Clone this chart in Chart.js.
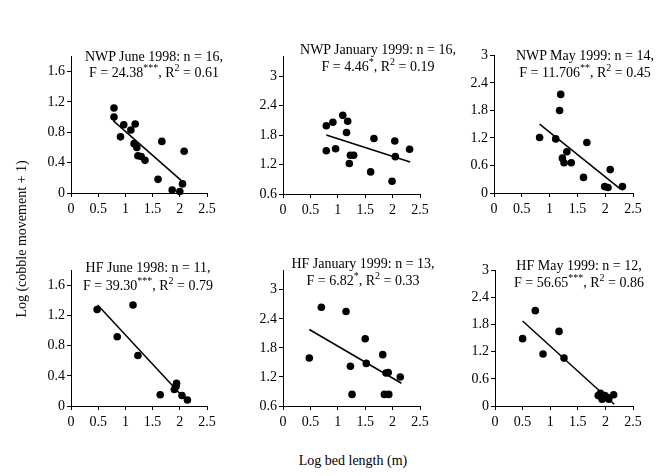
<!DOCTYPE html>
<html>
<head>
<meta charset="utf-8">
<script src="https://cdn.jsdelivr.net/npm/chart.js@4/dist/chart.umd.min.js"></script>
<style>
  body { margin: 0; background: #fff; }
  #wrap { position: relative; width: 665px; height: 476px; overflow: hidden; font-family: "Liberation Serif", "Times New Roman", serif; color: #000; }
  canvas { position: absolute; }
  .note { position: absolute; width: 220px; height: 16px; line-height: 16px; text-align: center; font-size: 14px; white-space: nowrap; }
  .note sup { font-size: 10px; line-height: 0; vertical-align: 6px; }
  .note sup.r { font-size: 10px; }
  .axt { position: absolute; font-size: 14px; white-space: nowrap; text-align: center; }
</style>
</head>
<body>
<div id="wrap"></div>
<script>
// tick labels
const xTicks = [0, 0.5, 1, 1.5, 2, 2.5];
const yTicksA = [0, 0.4, 0.8, 1.2, 1.6];
const yTicksB = [0.6, 1.2, 1.8, 2.4, 3];
const yTicksC = [0, 0.6, 1.2, 1.8, 2.4, 3];

// NWP June 1998
const nwpJun98X = [0.79, 0.79, 0.97, 0.91, 1.10, 1.18, 1.16, 1.21, 1.23, 1.29, 1.36, 1.67, 1.60, 1.86, 2.00, 2.05, 2.08];
const nwpJun98Y = [1.12, 1.00, 0.90, 0.74, 0.83, 0.91, 0.65, 0.60, 0.49, 0.48, 0.43, 0.68, 0.18, 0.04, 0.02, 0.12, 0.55];
const nwpJun98FitX = [0.78, 2.05];
const nwpJun98FitY = [0.95, 0.15];

// NWP January 1999
const nwpJan99X = [0.79, 0.79, 0.91, 0.96, 1.09, 1.18, 1.16, 1.23, 1.29, 1.21, 1.66, 1.60, 2.04, 2.05, 1.99, 2.31];
const nwpJan99Y = [1.99, 1.48, 2.06, 1.52, 2.20, 2.08, 1.85, 1.39, 1.39, 1.22, 1.73, 1.05, 1.68, 1.36, 0.86, 1.51];
const nwpJan99FitX = [0.79, 2.32];
const nwpJan99FitY = [1.80, 1.25];

// NWP May 1999
const nwpMay99X = [0.82, 1.20, 1.18, 1.11, 1.23, 1.26, 1.31, 1.39, 1.67, 1.61, 1.99, 2.05, 2.09, 2.31];
const nwpMay99Y = [1.21, 2.15, 1.80, 1.18, 0.76, 0.66, 0.90, 0.66, 1.10, 0.34, 0.14, 0.12, 0.51, 0.14];
const nwpMay99FitX = [0.82, 2.27];
const nwpMay99FitY = [1.50, 0.09];

// HF June 1998
const hfJun98X = [0.48, 1.14, 0.85, 1.23, 1.64, 1.94, 1.93, 1.90, 2.04, 2.14];
const hfJun98Y = [1.28, 1.34, 0.92, 0.67, 0.15, 0.30, 0.26, 0.22, 0.14, 0.08];
const hfJun98FitX = [0.49, 2.06];
const hfJun98FitY = [1.34, 0.12];

// HF January 1999
const hfJan99X = [0.48, 0.70, 1.15, 1.23, 1.26, 1.50, 1.52, 1.82, 1.88, 1.92, 1.85, 1.93, 2.14];
const hfJan99Y = [1.59, 2.64, 2.55, 1.42, 0.84, 1.99, 1.48, 1.66, 1.28, 1.29, 0.84, 0.84, 1.20];
const hfJan99FitX = [0.48, 2.16];
const hfJan99FitY = [2.18, 1.07];

// HF May 1999
const hfMay99X = [0.50, 0.73, 0.87, 1.16, 1.25, 1.87, 1.91, 1.94, 1.99, 2.03, 2.06, 2.15];
const hfMay99Y = [1.49, 2.11, 1.15, 1.65, 1.06, 0.23, 0.28, 0.15, 0.23, 0.19, 0.15, 0.25];
const hfMay99FitX = [0.50, 2.16];
const hfMay99FitY = [1.88, 0.04];

const FONT = { family: '"Liberation Serif", "Times New Roman", serif', size: 14 };
const YW = 45, XH = 30, PT = 10, PR = 14;

function pts(xs, ys) {
  return xs.map((x, i) => ({ x: x, y: ys[i] }));
}

function makePanel(rect, xs, ys, fx, fy, yMin, yMax, yTicks, line1, line2, noteX, noteY1, noteY2) {
  const wrap = document.getElementById('wrap');
  const c = document.createElement('canvas');
  const w = rect.r - rect.l + YW + PR;
  const h = rect.b - rect.t + PT + XH;
  c.width = w; c.height = h;
  c.style.left = (rect.l - YW) + 'px';
  c.style.top = (rect.t - PT) + 'px';
  wrap.appendChild(c);

  new Chart(c, {
    type: 'scatter',
    data: {
      datasets: [
        { data: pts(xs, ys), backgroundColor: '#000', borderWidth: 0, pointRadius: 3.8, clip: false },
        { type: 'line', data: pts(fx, fy), borderColor: '#000', borderWidth: 1.5, pointRadius: 0, fill: false, clip: false }
      ]
    },
    options: {
      responsive: false,
      animation: false,
      layout: { padding: { left: 0, top: PT, right: PR, bottom: 0 } },
      plugins: { legend: { display: false }, tooltip: { enabled: false } },
      scales: {
        x: {
          type: 'linear', min: 0, max: 2.5,
          afterBuildTicks: a => { a.ticks = xTicks.map(v => ({ value: v })); },
          afterFit: a => { a.height = XH; },
          ticks: { color: '#000', font: FONT, padding: 4, maxRotation: 0, callback: v => String(v) },
          grid: { display: true, drawOnChartArea: false, drawTicks: true, tickLength: 4, color: '#000' },
          border: { display: true, color: '#000', width: 1 }
        },
        y: {
          type: 'linear', min: yMin, max: yMax,
          afterBuildTicks: a => { a.ticks = yTicks.map(v => ({ value: v })); },
          afterFit: a => { a.width = YW; },
          ticks: { color: '#000', font: FONT, padding: 2, callback: v => String(v) },
          grid: { display: true, drawOnChartArea: false, drawTicks: true, tickLength: 4, color: '#000' },
          border: { display: true, color: '#000', width: 1 }
        }
      }
    }
  });

  const n1 = document.createElement('div');
  n1.className = 'note';
  n1.style.left = (noteX - 110) + 'px';
  n1.style.top = (noteY1 - 8) + 'px';
  n1.innerHTML = line1;
  wrap.appendChild(n1);
  const n2 = document.createElement('div');
  n2.className = 'note';
  n2.style.left = (noteX - 110) + 'px';
  n2.style.top = (noteY2 - 8) + 'px';
  n2.innerHTML = line2;
  wrap.appendChild(n2);
}

makePanel({ l: 71, r: 207, t: 56, b: 193 }, nwpJun98X, nwpJun98Y, nwpJun98FitX, nwpJun98FitY, 0, 1.8, yTicksA,
  'NWP June 1998: n = 16,', 'F = 24.38<sup>***</sup>, R<sup class="r">2</sup> = 0.61', 154, 57, 73);
makePanel({ l: 283, r: 420, t: 56, b: 194 }, nwpJan99X, nwpJan99Y, nwpJan99FitX, nwpJan99FitY, 0.6, 3.4, yTicksB,
  'NWP January 1999: n = 16,', 'F = 4.46<sup>*</sup>, R<sup class="r">2</sup> = 0.19', 378, 50, 67);
makePanel({ l: 494, r: 633, t: 55, b: 193 }, nwpMay99X, nwpMay99Y, nwpMay99FitX, nwpMay99FitY, 0, 3, yTicksC,
  'NWP May 1999: n = 14,', 'F = 11.706<sup>**</sup>, R<sup class="r">2</sup> = 0.45', 585, 56, 73);
makePanel({ l: 71, r: 207, t: 270, b: 406 }, hfJun98X, hfJun98Y, hfJun98FitX, hfJun98FitY, 0, 1.8, yTicksA,
  'HF June 1998: n = 11,', 'F = 39.30<sup>***</sup>, R<sup class="r">2</sup> = 0.79', 148, 268, 286);
makePanel({ l: 283, r: 420, t: 270, b: 406 }, hfJan99X, hfJan99Y, hfJan99FitX, hfJan99FitY, 0.6, 3.4, yTicksB,
  'HF January 1999: n = 13,', 'F = 6.82<sup>*</sup>, R<sup class="r">2</sup> = 0.33', 363, 264, 281);
makePanel({ l: 495, r: 633, t: 270, b: 406 }, hfMay99X, hfMay99Y, hfMay99FitX, hfMay99FitY, 0, 3, yTicksC,
  'HF May 1999: n = 12,', 'F = 56.65<sup>***</sup>, R<sup class="r">2</sup> = 0.86', 579, 266, 283);

// axis titles
const wrap = document.getElementById('wrap');
const yt = document.createElement('div');
yt.className = 'axt';
yt.textContent = 'Log (cobble movement + 1)';
yt.style.width = '240px';
yt.style.left = (22 - 120) + 'px';
yt.style.top = (240 - 9) + 'px';
yt.style.transform = 'rotate(-90deg)';
wrap.appendChild(yt);
const xt = document.createElement('div');
xt.className = 'axt';
xt.textContent = 'Log bed length (m)';
xt.style.width = '240px';
xt.style.left = (353 - 120) + 'px';
xt.style.top = (462 - 9) + 'px';
wrap.appendChild(xt);
</script>
</body>
</html>
